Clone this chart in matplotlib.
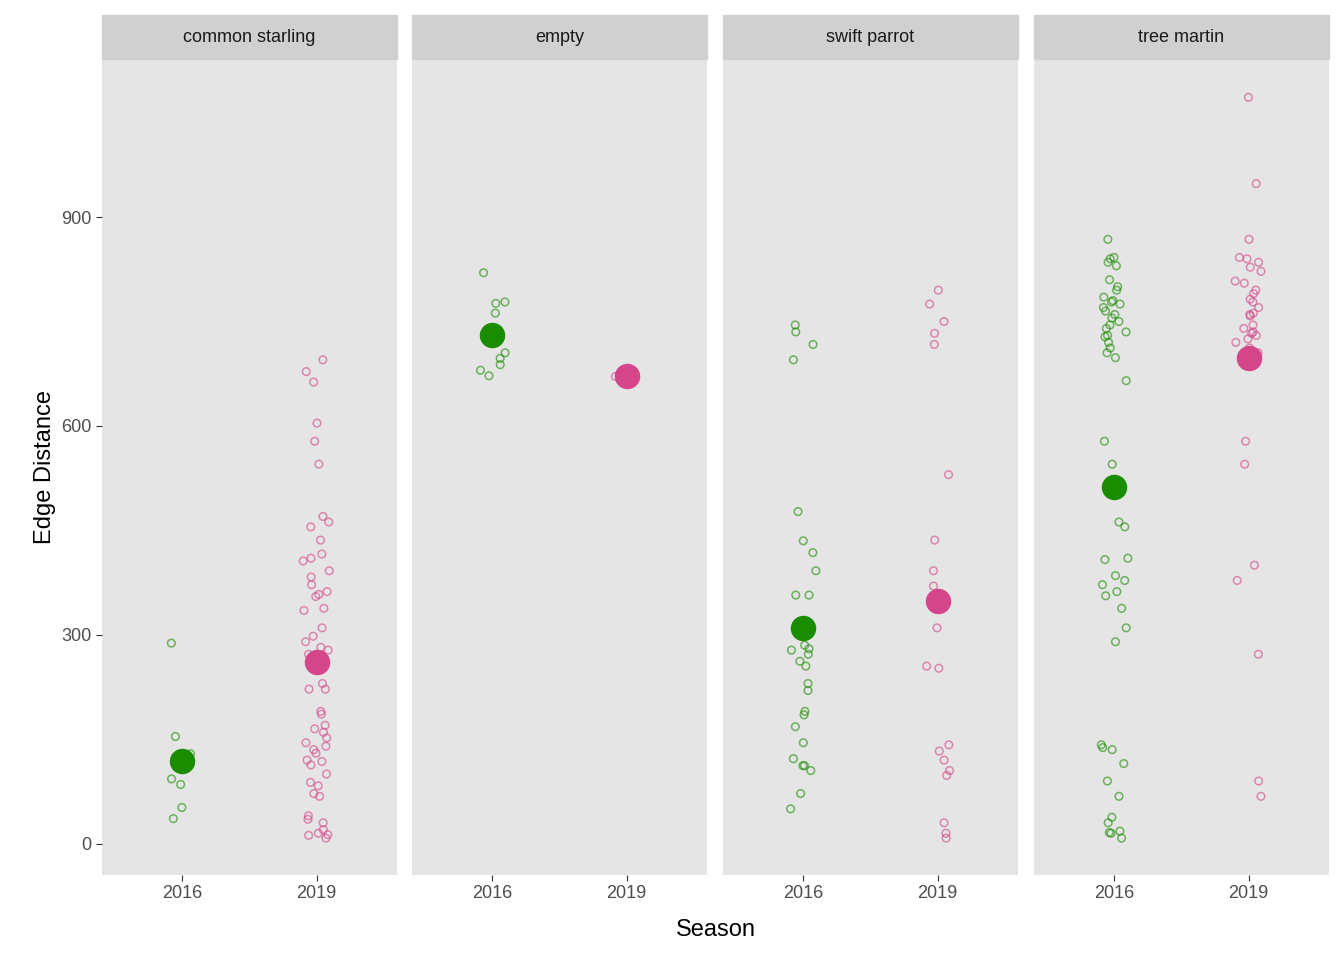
import matplotlib.pyplot as plt
import matplotlib.patches as mpatches
import numpy as np

plt.rcParams['font.family'] = ['Liberation Sans', 'DejaVu Sans']

panels = ["common starling", "empty", "swift parrot", "tree martin"]
seasons = ["2016", "2019"]

cs_2016 = [288, 154, 129, 113, 93, 85, 52, 36]
cs_2019 = [695, 678, 663, 604, 578, 545, 470, 462, 455, 436, 416, 410, 406, 392, 383, 372,
           362, 358, 355, 338, 335, 310, 298, 290, 282, 278, 272, 262, 260, 258, 230, 222,
           222, 190, 186, 170, 165, 160, 152, 145, 140, 135, 130, 120, 118, 113, 100, 88,
           83, 72, 68, 40, 35, 30, 20, 15, 13, 12, 8]
em_2016 = [820, 778, 776, 762, 705, 697, 688, 680, 672]
em_2019 = [671]
sp_2016 = [745, 735, 717, 695, 477, 435, 418, 392, 357, 357, 285, 280, 278, 272, 262, 255,
           230, 220, 185, 190, 168, 145, 122, 112, 112, 105, 72, 50]
sp_2019 = [795, 775, 750, 733, 717, 530, 436, 392, 370, 310, 255, 252, 142, 133, 120, 105,
           98, 30, 15, 8]
tm_2016 = [868, 842, 840, 835, 830, 810, 800, 795, 785, 780, 778, 775, 770, 765, 760, 755,
           750, 745, 740, 735, 730, 728, 720, 712, 705, 698, 665, 578, 545, 462, 455, 410,
           408, 385, 378, 372, 362, 356, 338, 310, 290, 142, 138, 135, 115, 90, 68, 38, 30,
           18, 16, 15, 8]
tm_2019 = [1072, 948, 868, 842, 840, 835, 828, 822, 808, 805, 795, 790, 782, 778, 770, 762,
           760, 758, 745, 740, 735, 733, 730, 725, 720, 712, 705, 700, 690, 578, 545, 400,
           378, 272, 90, 68]

data = {
    "common starling": [cs_2016, cs_2019],
    "empty": [em_2016, em_2019],
    "swift parrot": [sp_2016, sp_2019],
    "tree martin": [tm_2016, tm_2019],
}
colors = ["#1a8c00", "#d4458a"]

W, H = 1344, 960
fig = plt.figure(figsize=(W / 100, H / 100), dpi=100)
rng = np.random.default_rng(3)
lefts = [102, 412, 723, 1034]
pw = 295
top, bottom = 59, 875
strip_h = 44

for i, name in enumerate(panels):
    ax = fig.add_axes([lefts[i] / W, 1 - bottom / H, pw / W, (bottom - top) / H])
    ax.set_facecolor("#e5e5e5")
    for s in ax.spines.values():
        s.set_visible(False)
    for j, vals in enumerate(data[name]):
        x = j + 1 + rng.uniform(-0.1, 0.1, len(vals))
        ax.scatter(x, vals, s=30, facecolors="none", edgecolors=colors[j], alpha=0.6, linewidths=1.1, zorder=2)
        ax.scatter([j + 1], [np.mean(vals)], s=300, color=colors[j], zorder=3)
    ax.set_xlim(0.4, 2.6)
    ax.set_ylim(-45, 1127)
    ax.set_xticks([1, 2])
    ax.set_xticklabels(seasons, fontsize=13, color="#4d4d4d")
    ax.set_yticks([0, 300, 600, 900])
    ax.tick_params(length=4, color="#333333")
    if i == 0:
        ax.set_yticklabels(["0", "300", "600", "900"], fontsize=13, color="#4d4d4d")
        ax.set_ylabel("Edge Distance", fontsize=17)
    else:
        ax.set_yticklabels([])
        ax.tick_params(axis="y", length=0)
    hs = strip_h / (bottom - top)
    ax.add_patch(mpatches.Rectangle((0, 1), 1, hs, transform=ax.transAxes, color="#d0d0d0",
                                    clip_on=False, zorder=5))
    ax.text(0.5, 1 + hs / 2, name, transform=ax.transAxes, ha="center", va="center",
            fontsize=13, color="#1a1a1a", zorder=6)

fig.text((102 + 1329) / 2 / W, 1 - 930 / H, "Season", ha="center", va="center", fontsize=17)
fig.savefig("out.png", dpi=100)
